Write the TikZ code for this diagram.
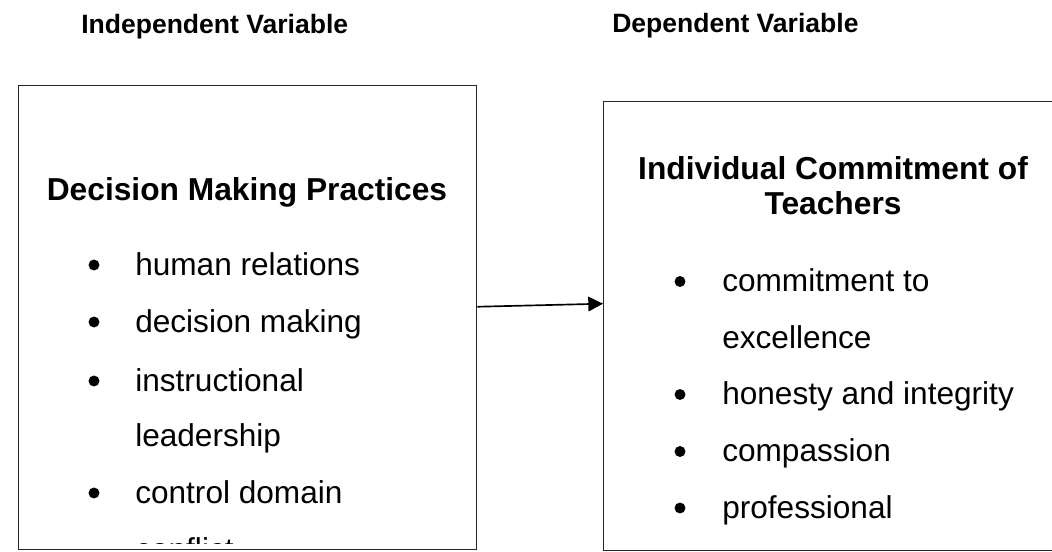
\documentclass[tikz,border=0pt]{standalone}
\usepackage{fontspec}
\setmainfont{Liberation Sans}
\usetikzlibrary{arrows.meta}

\tikzset{
  vartitle/.style={font=\bfseries\fontsize{19.9}{24}\selectfont, anchor=base west, inner sep=0pt},
  boxhead/.style={font=\bfseries\fontsize{23.8}{28}\selectfont, anchor=base, inner sep=0pt},
  itemtext/.style={font=\fontsize{23.7}{28}\selectfont, anchor=base west, inner sep=0pt},
  dot/.style={circle, fill=black, inner sep=0pt, minimum size=8.2pt},
  varbox/.style={draw=black!85, line width=1.1pt, inner sep=0pt, anchor=north west}
}

\begin{document}
\begin{tikzpicture}[x=0.75pt,y=-0.75pt]
\useasboundingbox (0,0) rectangle (1052,552);

\node(indtitle) at (81,34)[vartitle]  {Independent Variable};
\node(deptitle) at (612,33)[vartitle] {Dependent Variable};

\node(ivbox) at (18,85)[varbox, minimum width=343.5pt, minimum height=348pt]    {};
\node(dvbox) at (603,101)[varbox, minimum width=340pt, minimum height=336.75pt] {};

% left box
\node(ivhead) at (247,201)[boxhead] {Decision Making Practices};
\node(ivdot1) at (94,265)[dot] {};
\node(ivdot2) at (94,322)[dot] {};
\node(ivdot3) at (94,381)[dot] {};
\node(ivdot4) at (94,493)[dot] {};
\node(human)     at (135,275)[itemtext] {human relations};
\node(decision)  at (135,332)[itemtext] {decision making};
\node(instruct)  at (135,391)[itemtext] {instructional};
\node(leader)    at (135,446)[itemtext] {leadership};
\node(control)   at (135,503)[itemtext] {control domain};
\begin{scope}
  \clip (18,85) rectangle (476,543);
  \node(conflict) at (135,560)[itemtext] {conflict};
\end{scope}

% right box
\node(dvhead1) at (833,180)[boxhead] {Individual Commitment of};
\node(dvhead2) at (833,215)[boxhead] {Teachers};
\node(dvdot1) at (680,281.5)[dot] {};
\node(dvdot2) at (680,394.5)[dot] {};
\node(dvdot3) at (680,451.5)[dot] {};
\node(dvdot4) at (680,508)[dot] {};
\node(commit)    at (722,291.5)[itemtext] {commitment to};
\node(excel)     at (722,348)[itemtext]   {excellence};
\node(honesty)   at (722,404.5)[itemtext] {honesty and integrity};
\node(compass)   at (722,461.5)[itemtext] {compassion};
\node(profess)   at (722,518)[itemtext]   {professional};

\draw [-{Triangle[length=11pt,width=11pt]}, line width=1.25pt]
  ([yshift=8.25pt]ivbox.east) -- ([yshift=16.9pt]dvbox.west);

\end{tikzpicture}
\end{document}
